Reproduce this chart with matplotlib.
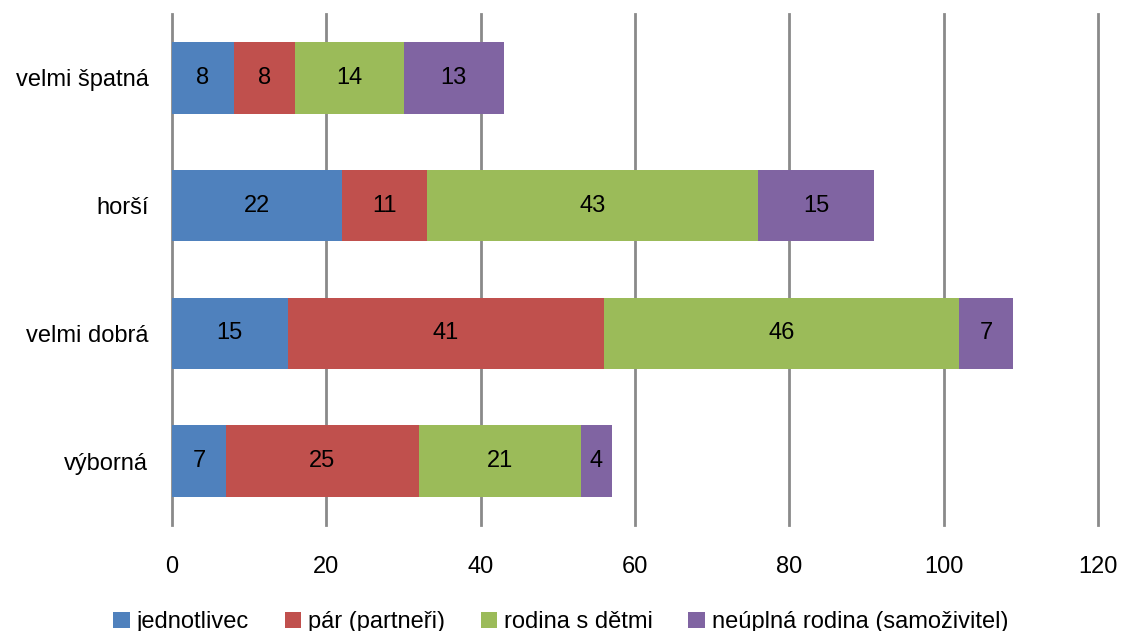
import matplotlib.pyplot as plt
import numpy as np

# data
categories = ['výborná', 'velmi dobrá', 'horší', 'velmi špatná']
series = ['jednotlivec', 'pár (partneři)', 'rodina s dětmi', 'neúplná rodina (samoživitel)']
jednotlivec = [7, 15, 22, 8]
par = [25, 41, 11, 8]
rodina = [21, 46, 43, 14]
neuplna = [4, 7, 15, 13]
values = [jednotlivec, par, rodina, neuplna]
colors = ['#4F81BD', '#C0504D', '#9BBB59', '#8064A2']

plt.rcParams['font.family'] = ['Liberation Sans', 'DejaVu Sans']

fig = plt.figure(figsize=(11.21, 6.31), dpi=100)
ax = fig.add_axes([172/1121, 106/631, 926/1121, 511/631])

y = np.arange(len(categories))
left = np.zeros(len(categories))
for vals, name, c in zip(values, series, colors):
    ax.barh(y, vals, left=left, height=0.56, color=c, label=name, zorder=3)
    for yi, l, v in zip(y, left, vals):
        ax.text(l + v / 2, yi, str(v), ha='center', va='center', fontsize=17, zorder=4)
    left = left + np.array(vals)

ax.set_xlim(0, 120)
ax.set_ylim(-0.5, 3.5)
ax.set_xticks(range(0, 121, 20))
ax.set_yticks(y)
ax.set_yticklabels(categories)
ax.xaxis.grid(True, color='#8a8a8a', linewidth=2, zorder=0)
for gl in ax.get_xgridlines():
    gl.set_clip_on(False)
ax.tick_params(axis='both', length=0, labelsize=17)
ax.tick_params(axis='x', pad=22)
ax.tick_params(axis='y', pad=17)
for s in ax.spines.values():
    s.set_visible(False)

ax.legend(loc='upper center', bbox_to_anchor=(0.42, -0.127), ncol=4, frameon=False,
          fontsize=17, handlelength=0.7, handleheight=0.7, handletextpad=0.3, columnspacing=1.5)

fig.savefig('out.png', dpi=100)
